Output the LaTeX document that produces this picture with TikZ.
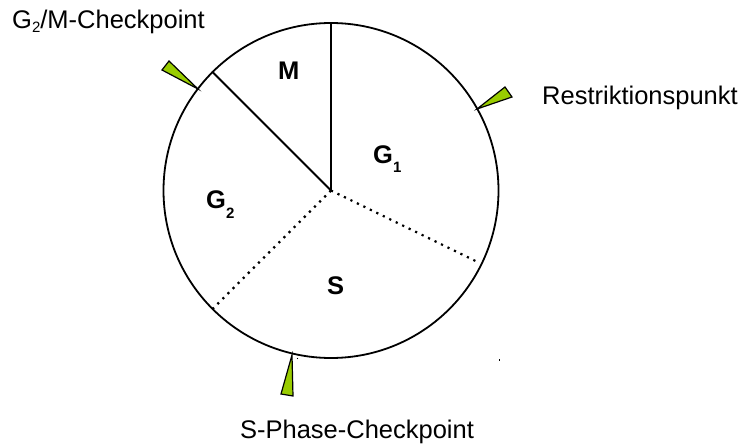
\documentclass[tikz,border=0pt]{standalone}
\usepackage{fontspec}
\setmainfont{Liberation Sans}
\usetikzlibrary{calc}
\definecolor{wedgegreen}{HTML}{99CC00}
\newcommand{\lowsub}[2]{\raisebox{#1}{\fontsize{15}{15}\selectfont #2}}
\begin{document}
\begin{tikzpicture}[x=1pt,y=-1pt,
  outline/.style={draw=black,line width=1.8pt},
  divider/.style={draw=black,line width=1.8pt},
  dotdiv/.style={draw=black,line width=2.2pt,dash pattern=on 2.2pt off 5pt},
  wedge/.style={draw=black,line width=1.2pt,fill=wedgegreen,line join=miter},
  outlabel/.style={inner sep=0pt,anchor=base west,font=\fontsize{25.5}{25.5}\selectfont},
  phaselabel/.style={inner sep=0pt,anchor=base west,font=\fontsize{25.5}{25.5}\selectfont\bfseries}]
\useasboundingbox (0,0) rectangle (745,444);
\coordinate (c) at (331,190.5);
\node[circle,minimum size=335pt,inner sep=0pt,outline] (cyc) at (c) {};
% dividers
\draw[divider] (c) -- (cyc.90);
\draw[divider] (c) -- (cyc.135);
\draw[dotdiv] (c) -- (cyc.225);
\draw[dotdiv] (c) -- ($(c)!0.965!(cyc.-26.5)$);
% phase labels
\node[phaselabel] (M) at (278,80) {M};
\node[phaselabel] (G1) at (373,164) {G\lowsub{-9pt}{1}};
\node[phaselabel] (G2) at (206,208) {G\lowsub{-10pt}{2}};
\node[phaselabel] (S) at (327,294) {S};
% checkpoint wedges
\draw[wedge] (198,89) -- (169,61) -- (162,70) -- cycle;
\draw[wedge] (477,109) -- (505,87) -- (512,97) -- cycle;
\draw[wedge] (292,355) -- (281,394) -- (293,396) -- cycle;
% tiny marks
\fill (297.5,358.5) circle (0.7pt);
\fill (498.5,358.5) rectangle (499.5,361);
% checkpoint labels
\node[outlabel] (gm) at (12,29) {G\lowsub{-4pt}{2}/M-Checkpoint};
\node[outlabel] (rp) at (542,104) {Restriktionspunkt};
\node[outlabel,anchor=base] (sp) at (357,438) {S-Phase-Checkpoint};
\end{tikzpicture}
\end{document}
